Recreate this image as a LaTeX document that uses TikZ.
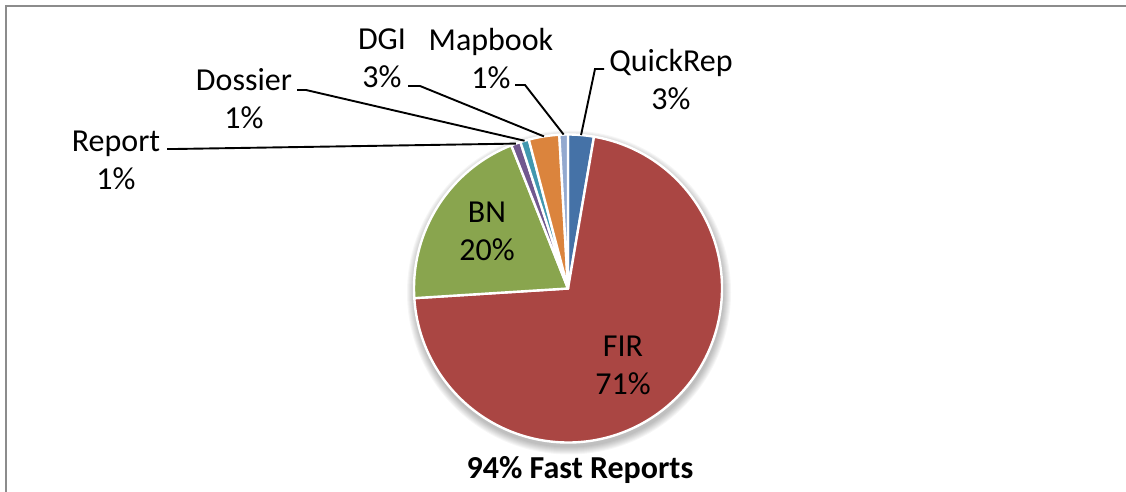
\documentclass[tikz,border=0pt]{standalone}
\usepackage{fontspec}
\setmainfont{Carlito}
\usetikzlibrary{calc}
\definecolor{cQR}{HTML}{4572A7}
\definecolor{cFIR}{HTML}{AA4643}
\definecolor{cBN}{HTML}{89A54E}
\definecolor{cRep}{HTML}{71588F}
\definecolor{cDos}{HTML}{4198AF}
\definecolor{cDGI}{HTML}{DB843D}
\definecolor{cMap}{HTML}{93A9CF}
\definecolor{frame}{HTML}{8C8C8C}
\begin{document}
\begin{tikzpicture}[x=1pt,y=1pt,
  slice/.style={draw=white,line width=2.4pt,line join=round},
  lbl/.style={font=\fontsize{32}{38}\selectfont,align=center,inner sep=0pt},
  leader/.style={draw=black,line width=1.9pt}]
\useasboundingbox (0,0) rectangle (1126,492);
% chart frame
\draw[frame,line width=2.5pt] (6,-5) -- (6,486) -- (1130,486);
\coordinate (C) at (568,203.5);
\def\R{154pt}
% soft shadow behind the pie, falling mostly downwards
\foreach \i in {1,...,8}
  \fill[black,opacity=0.035] ($(C)+(1,-4)$) circle[radius=\R+\i pt];
% slices, clockwise from the top
\draw[slice,fill=cQR]  (C) -- ++(90:\R)      arc[start angle=90,     end angle=80.28,   radius=\R] -- cycle;
\draw[slice,fill=cFIR] (C) -- ++(80.28:\R)   arc[start angle=80.28,  end angle=-176.4,  radius=\R] -- cycle;
\draw[slice,fill=cBN]  (C) -- ++(-176.4:\R)  arc[start angle=-176.4, end angle=-248.4,  radius=\R] -- cycle;
\draw[slice,fill=cRep] (C) -- ++(-248.4:\R)  arc[start angle=-248.4, end angle=-252.0,  radius=\R] -- cycle;
\draw[slice,fill=cDos] (C) -- ++(-252.0:\R)  arc[start angle=-252.0, end angle=-255.24, radius=\R] -- cycle;
\draw[slice,fill=cDGI] (C) -- ++(-255.24:\R) arc[start angle=-255.24,end angle=-266.76, radius=\R] -- cycle;
\draw[slice,fill=cMap] (C) -- ++(-266.76:\R) arc[start angle=-266.76,end angle=-270,    radius=\R] -- cycle;
% anchor points on the rim for the leader lines
\coordinate (pQR)  at ($(C)+(85.14:\R)$);
\coordinate (pMap) at ($(C)+(91.62:\R)$);
\coordinate (pDGI) at ($(C)+(99.0:\R)$);
\coordinate (pDos) at ($(C)+(106.38:\R)$);
\coordinate (pRep) at ($(C)+(109.8:\R)$);
% labels
\node[lbl] (lQR)  at (671,412)   {QuickRep\\3\%};
\node[lbl] (lMap) at (491,433.5) {Mapbook\\1\%};
\node[lbl] (lDGI) at (382,433.5) {DGI\\3\%};
\node[lbl] (lDos) at (244,393)   {Dossier\\1\%};
\node[lbl] (lRep) at (116,332)   {Report\\1\%};
\node[lbl] (lBN)  at (487,261)   {BN\\20\%};
\node[lbl] (lFIR) at (623,127)   {FIR\\71\%};
\node[font=\fontsize{32}{38}\selectfont\bfseries,inner sep=0pt] (title) at (580,22) {94\% Fast Reports};
% leader lines: short horizontal tick, then a straight run to the rim
\coordinate (sQR)  at (604,423);  \coordinate (kQR)  at (595,423);
\coordinate (sMap) at (515,407);  \coordinate (kMap) at (525,407);
\coordinate (sDGI) at (408,406);  \coordinate (kDGI) at (420,406);
\coordinate (sDos) at (297,402);  \coordinate (kDos) at (306,402);
\coordinate (sRep) at (167,343);  \coordinate (kRep) at (175,343);
\draw[leader] (sQR)  -- (kQR)  -- (pQR);
\draw[leader] (sMap) -- (kMap) -- (pMap);
\draw[leader] (sDGI) -- (kDGI) -- (pDGI);
\draw[leader] (sDos) -- (kDos) -- (pDos);
\draw[leader] (sRep) -- (kRep) -- (pRep);
\end{tikzpicture}
\end{document}
